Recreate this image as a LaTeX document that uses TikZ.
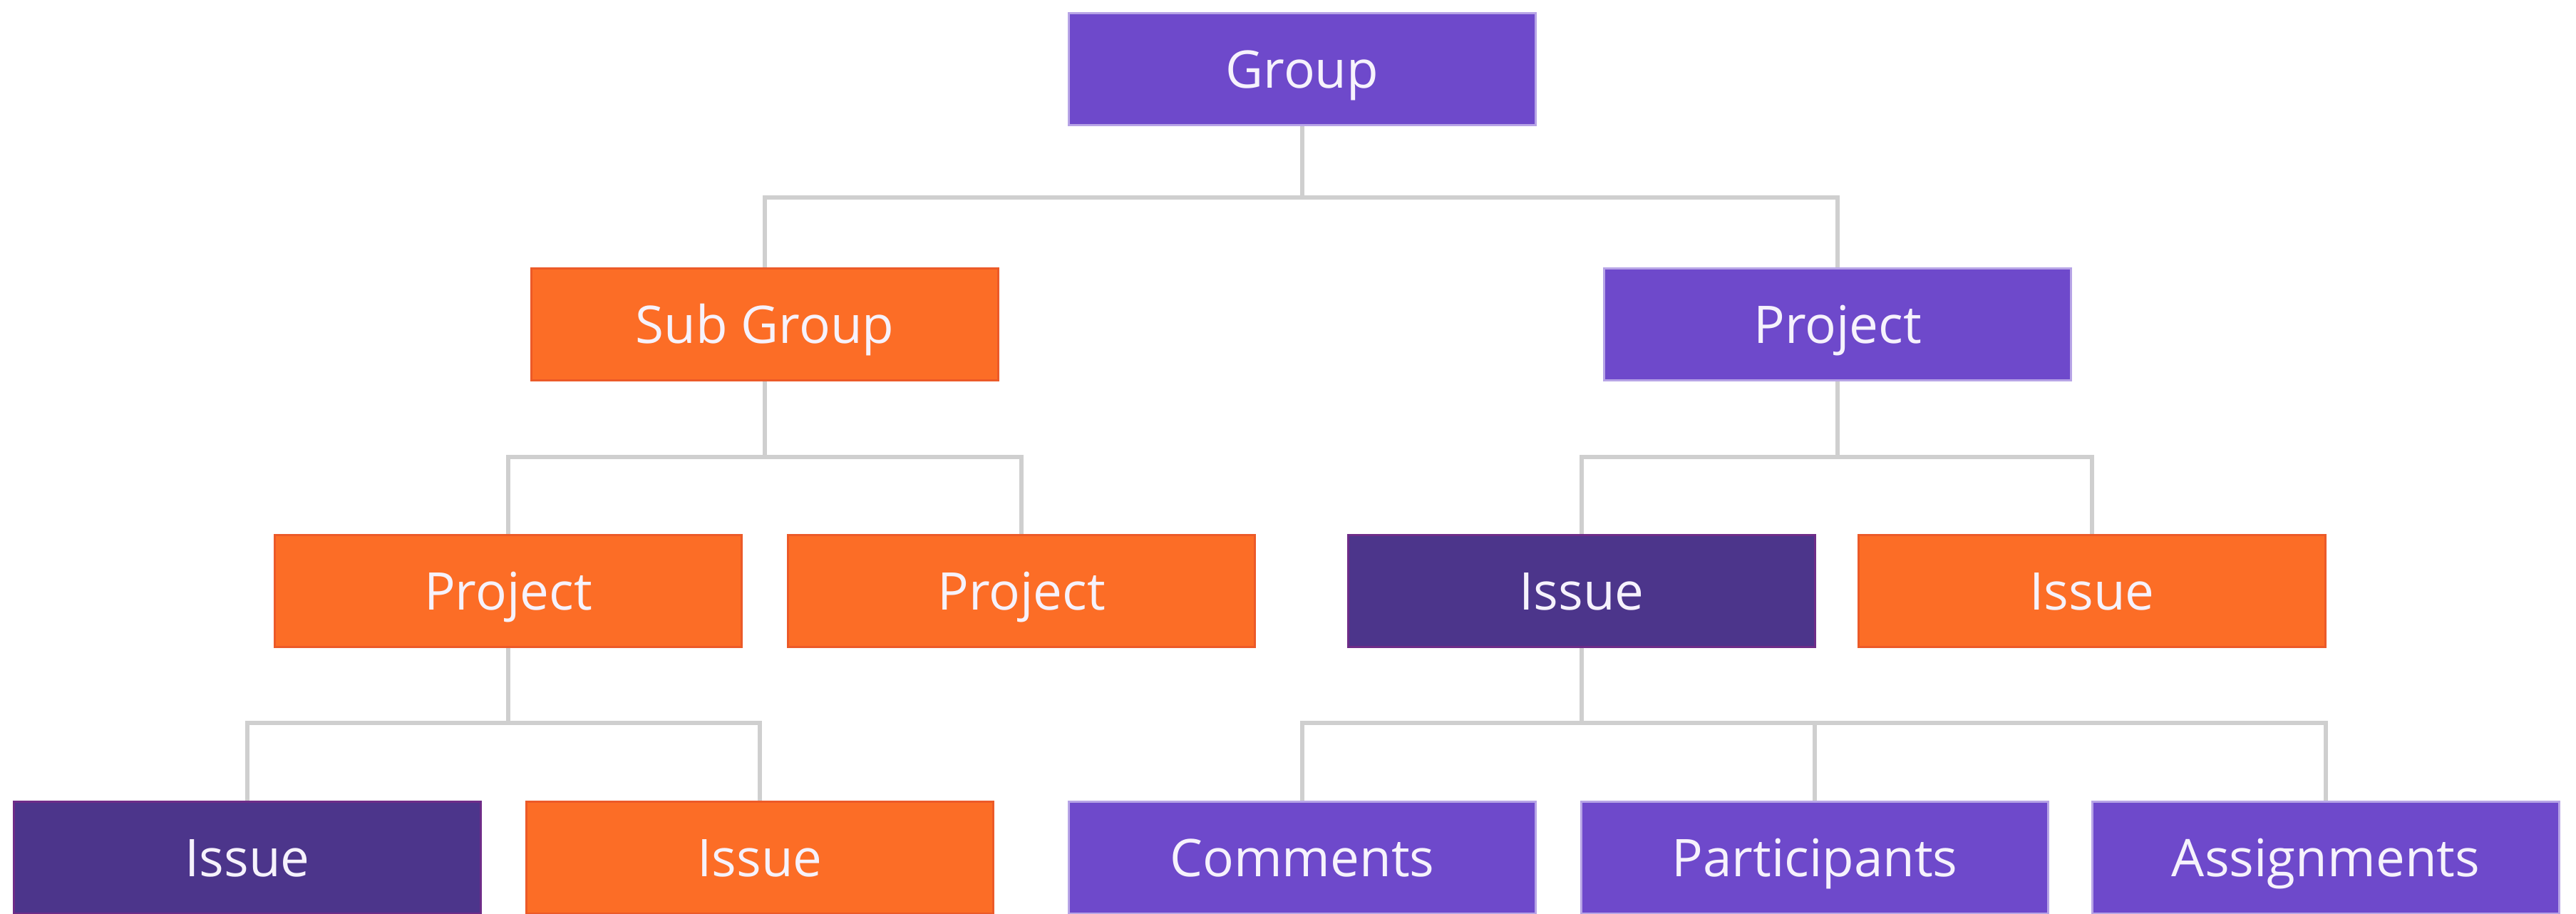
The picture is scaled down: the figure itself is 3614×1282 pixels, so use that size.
\documentclass[tikz,border=0pt]{standalone}
\usepackage{fontspec}
\setmainfont{Open Sans}
\definecolor{gpurple}{HTML}{6E49CB}
\definecolor{gpurpleedge}{HTML}{B7A4E6}
\definecolor{gdark}{HTML}{4C358B}
\definecolor{gdarkedge}{HTML}{6E2C88}
\definecolor{gorange}{HTML}{FC6D26}
\definecolor{gorangeedge}{HTML}{EC5A28}
\definecolor{gline}{HTML}{CFCFCF}
\definecolor{gtext}{HTML}{F6F2FC}
\begin{document}
\begin{tikzpicture}[x=0.01cm,y=-0.01cm,
  box/.style={minimum width=6.54cm,minimum height=1.56cm,inner sep=0pt,
    line width=0.03cm,text=gtext,text height=14.8pt,text depth=0pt,
    font=\fontsize{20.7}{24}\selectfont},
  pbox/.style={box,fill=gpurple,draw=gpurpleedge},
  dbox/.style={box,fill=gdark,draw=gdarkedge},
  obox/.style={box,fill=gorange,draw=gorangeedge},
  conn/.style={draw=gline,line width=0.06cm}]
\fill[white] (0,0) rectangle (3614,1282);
\useasboundingbox (0,0) rectangle (3614,1282);
% bar heights
\coordinate (b1) at (0,277);
\coordinate (b2) at (0,641);
\coordinate (b3) at (0,1014);
% nodes
\node[pbox] (group) at (1827,97) {Group};
\node[obox] (sub) at (1073,455) {Sub Group};
\node[pbox] (proj) at (2578,455) {Project};
\node[obox] (pl1) at (713,829) {Project};
\node[obox] (pl2) at (1433,829) {Project};
\node[dbox] (iss) at (2219,829) {Issue};
\node[obox] (iso) at (2935,829) {Issue};
\node[dbox] (bi1) at (347,1203) {Issue};
\node[obox] (bi2) at (1066,1203) {Issue};
\node[pbox] (com) at (1827,1203) {Comments};
\node[pbox] (par) at (2546,1203) {Participants};
\node[pbox] (ass) at (3263,1203) {Assignments};
% connectors
\draw[conn] (group.south) -- (group.south |- b1) -| (sub.north);
\draw[conn] (group.south |- b1) -| (proj.north);
\draw[conn] (sub.south) -- (sub.south |- b2) -| (pl1.north);
\draw[conn] (sub.south |- b2) -| (pl2.north);
\draw[conn] (proj.south) -- (proj.south |- b2) -| (iss.north);
\draw[conn] (proj.south |- b2) -| (iso.north);
\draw[conn] (pl1.south) -- (pl1.south |- b3) -| (bi1.north);
\draw[conn] (pl1.south |- b3) -| (bi2.north);
\draw[conn] (iss.south) -- (iss.south |- b3) -| (com.north);
\draw[conn] (iss.south |- b3) -| (par.north);
\draw[conn] (iss.south |- b3) -| (ass.north);
\end{tikzpicture}
\end{document}
